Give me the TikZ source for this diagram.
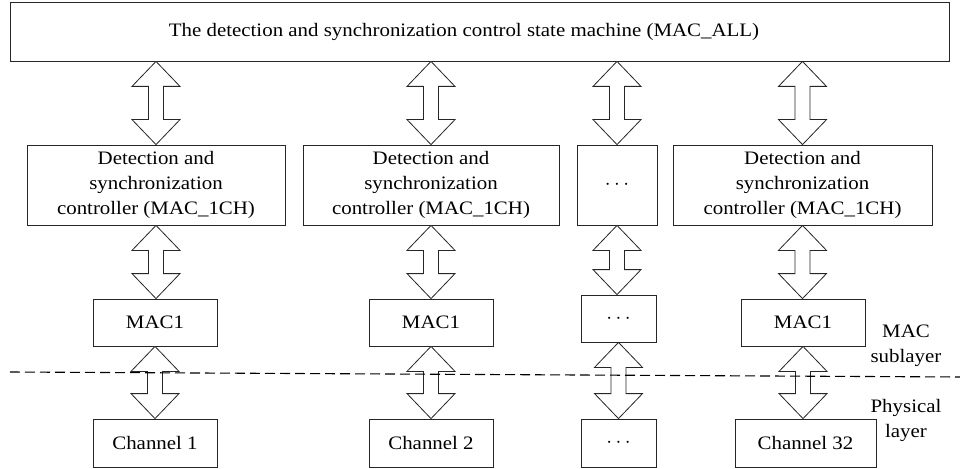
\documentclass[tikz,border=0pt]{standalone}
\usepackage{fontspec}
\setmainfont{Liberation Serif}[FakeStretch=1.1]
\usetikzlibrary{calc}
\begin{document}
\begin{tikzpicture}[x=1pt,y=-1pt,
  every node/.style={font=\fontsize{19}{25}\selectfont},
  box/.style={draw=black!85, line width=0.8pt, fill=white, inner sep=0pt, align=center},
  fatarrow/.style={draw=black!85, line width=0.8pt, fill=white, line join=miter,
    to path={let \p1=(\tikztostart), \p2=(\tikztotarget) in
      (\x1,\y1) -- (\x1+24pt,\y1-25pt) -- (\x1+7.5pt,\y1-25pt) -- (\x1+7.5pt,\y2+25pt)
      -- (\x1+24pt,\y2+25pt) -- (\x1,\y2) -- (\x1-24pt,\y2+25pt) -- (\x1-7.5pt,\y2+25pt)
      -- (\x1-7.5pt,\y1-25pt) -- (\x1-24pt,\y1-25pt) -- cycle}},
  layer/.style={align=center, inner sep=0pt},
  dots/.style={font=\fontsize{22}{25}\selectfont}
]
\useasboundingbox (0,0) rectangle (960,468);

% top-level state machine
\node[box, minimum width=939pt, minimum height=59pt] (top) at (479.5,31.5)
  {\hspace*{-31pt}The detection and synchronization control state machine (MAC\_ALL)};

% per-channel controllers
\node[box, minimum width=258pt, minimum height=80pt] (c1) at (156,185)
  {Detection and\\synchronization\\controller (MAC\_1CH)};
\node[box, minimum width=256pt, minimum height=80pt] (c2) at (431,185)
  {Detection and\\synchronization\\controller (MAC\_1CH)};
\node[box, dots, minimum width=80pt, minimum height=80pt] (c3) at (617,185) {$\cdots$};
\node[box, minimum width=259pt, minimum height=80pt] (c4) at (802.5,185)
  {Detection and\\synchronization\\controller (MAC\_1CH)};

% MAC blocks
\node[box, minimum width=124pt, minimum height=47pt] (m1) at (155,322.5) {MAC1};
\node[box, minimum width=124pt, minimum height=47pt] (m2) at (431,322.5) {MAC1};
\node[box, dots, minimum width=75pt, minimum height=47pt] (m3) at (618.5,318.5) {$\cdots$};
\node[box, minimum width=124pt, minimum height=47pt] (m4) at (803,322.5) {MAC1};

% physical channels
\node[box, minimum width=124pt, minimum height=48pt] (p1) at (155,443) {Channel 1};
\node[box, minimum width=124pt, minimum height=48pt] (p2) at (431,443) {Channel 2};
\node[box, dots, minimum width=75pt, minimum height=48pt] (p3) at (618.5,443) {$\cdots$};
\node[box, minimum width=141pt, minimum height=48pt] (p4) at (805.5,443) {Channel 32};

\node[layer] (lmac) at (906,346) {MAC\\sublayer};
\node[layer] (lphy) at (906,420) {Physical\\layer};

% bidirectional links
\foreach \c in {1,2,3,4} {
  \draw[fatarrow] (c\c.north |- top.south) to (c\c.north);
}
\draw[fatarrow] (c1.south) to (m1.north);
\draw[fatarrow] (c2.south) to (m2.north);
\draw[fatarrow] (c3.south) to (c3.south |- m3.north);
\draw[fatarrow] (c4.south) to (c4.south |- m4.north);
\draw[fatarrow] (m1.south) to (p1.north);
\draw[fatarrow] (m2.south) to (p2.north);
\draw[fatarrow] (m3.south) to (p3.north);
\draw[fatarrow] (m4.south) to (m4.south |- p4.north);

% layer boundary, drawn across the links
\coordinate (dl) at (10,372);
\coordinate (dr) at (960,377);
\draw[black, line width=1.1pt, dash pattern=on 10pt off 5pt] (dl) -- (dr);
\end{tikzpicture}
\end{document}
